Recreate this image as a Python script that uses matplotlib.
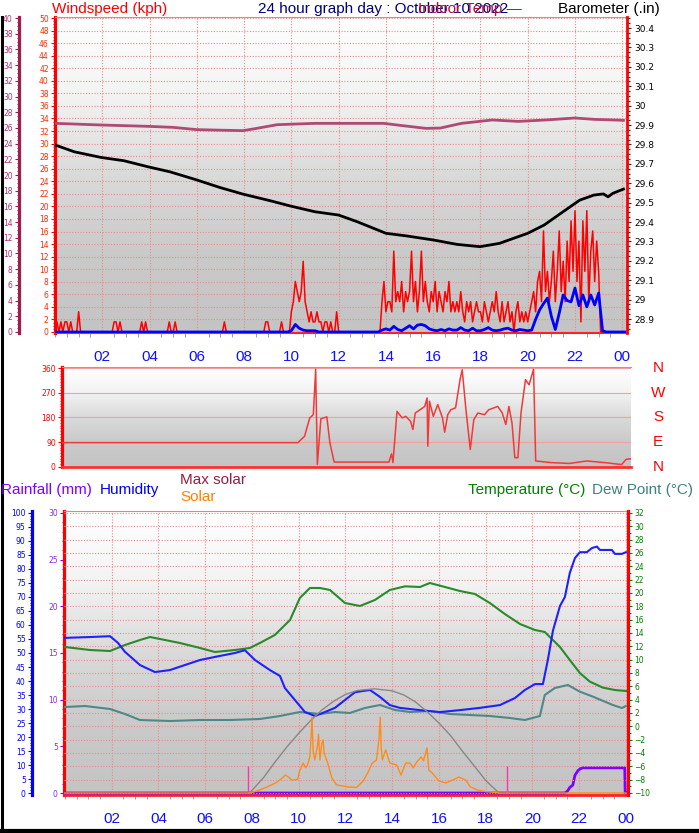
import numpy as np
import matplotlib
matplotlib.use('Agg')
import matplotlib.pyplot as plt
from matplotlib.colors import LinearSegmentedColormap
from matplotlib.ticker import MultipleLocator, FormatStrFormatter

W, H = 699, 833

# ---------------- data ----------------
hour_ticks = [2, 4, 6, 8, 10, 12, 14, 16, 18, 20, 22, 24]
hour_labels = ['02', '04', '06', '08', '10', '12', '14', '16', '18', '20', '22', '00']

# wind gust, mph, one value every 5 minutes (one row per hour)
gust_mph = [
    [0, 1, 0, 1, 0, 1, 1, 0, 1, 0, 0, 0],
    [2, 0, 0, 0, 0, 0, 0, 0, 0, 0, 0, 0],
    [0, 0, 0, 0, 0, 0, 1, 1, 0, 1, 0, 0],
    [0, 0, 0, 0, 0, 0, 0, 0, 1, 0, 1, 0],
    [0, 0, 0, 0, 0, 0, 0, 0, 0, 0, 1, 0],
    [0, 1, 0, 0, 0, 0, 0, 0, 0, 0, 0, 0],
    [0, 0, 0, 0, 0, 0, 0, 0, 0, 0, 0, 0],
    [0, 0, 1, 0, 0, 0, 0, 0, 0, 0, 0, 0],
    [0, 0, 0, 0, 0, 0, 0, 0, 0, 0, 0, 1],
    [1, 0, 0, 0, 0, 0, 0, 1, 0, 0, 0, 0],
    [2, 3, 5, 4, 3, 4, 7, 3, 2, 1, 2, 1],
    [1, 2, 1, 1, 0, 1, 1, 0, 1, 0, 0, 2],
    [0, 0, 0, 0, 0, 0, 0, 0, 0, 0, 0, 0],
    [0, 0, 0, 0, 0, 0, 0, 0, 0, 0, 3, 5],
    [2, 3, 3, 2, 8, 3, 4, 3, 5, 2, 4, 3],
    [4, 8, 3, 5, 2, 4, 8, 3, 5, 3, 2, 4],
    [3, 5, 2, 4, 3, 2, 4, 3, 5, 2, 3, 2],
    [3, 2, 4, 2, 1, 3, 2, 3, 1, 2, 3, 2],
    [2, 1, 3, 2, 1, 2, 3, 2, 4, 2, 1, 3],
    [1, 2, 3, 1, 2, 0, 2, 3, 1, 2, 1, 2],
    [1, 2, 3, 4, 2, 5, 6, 3, 10, 4, 6, 3],
    [5, 8, 3, 6, 10, 4, 7, 3, 9, 5, 11, 6],
    [12, 5, 9, 1, 11, 6, 12, 3, 8, 10, 5, 9],
    [6, 0, 0, 0, 0, 0, 0, 0, 0, 0, 0, 0],
]

# average wind, kph, one value every 10 minutes
wind_kph = [
    [0, 0, 0, 0, 0, 0], [0, 0, 0, 0, 0, 0], [0, 0, 0, 0, 0, 0],
    [0, 0, 0, 0, 0, 0], [0, 0, 0, 0, 0, 0], [0, 0, 0, 0, 0, 0],
    [0, 0, 0, 0, 0, 0], [0, 0, 0, 0, 0, 0], [0, 0, 0, 0, 0, 0],
    [0, 0, 0, 0, 0, 0],
    [0.2, 1.2, 0.6, 0.3, 0.2, 0.2],
    [0.2, 0, 0, 0, 0, 0],
    [0, 0, 0, 0, 0, 0],
    [0, 0, 0, 0, 0, 0.3],
    [0.5, 0.3, 0.9, 0.4, 0.2, 0.6],
    [1.0, 0.5, 1.1, 1.2, 1.0, 0.5],
    [0.3, 0.2, 0.4, 0.2, 0.5, 0.3],
    [0.3, 0.7, 0.3, 0.2, 0.6, 0.2],
    [0.2, 0.4, 0.7, 0.3, 0.2, 0.3],
    [0.5, 0.6, 0.3, 0.2, 0.4, 0.3],
    [0.2, 0.3, 2.0, 3.5, 4.5, 5.4],
    [2.5, 0.4, 3.0, 5.9, 5.0, 4.8],
    [7.0, 4.2, 5.9, 4.0, 5.9, 4.3],
    [6.2, 0.2, 0, 0, 0, 0],
]

baro_t = [0.01, 0.82, 1.95, 2.92, 3.93, 4.86, 5.92, 6.98, 7.95, 9.1, 9.98, 11.0, 12.0,
          12.8, 14.0, 14.9, 16.03, 17.0, 17.98, 18.8, 20.0, 20.7, 21.4, 22.2, 22.8,
          23.2, 23.4, 23.6, 24.05]
baro_in = [29.797, 29.762, 29.733, 29.716, 29.685, 29.659, 29.620, 29.578, 29.544,
           29.510, 29.482, 29.453, 29.436, 29.401, 29.342, 29.328, 29.307, 29.285,
           29.273, 29.290, 29.342, 29.385, 29.445, 29.513, 29.539, 29.545, 29.530,
           29.548, 29.570]

indoor_t = [0.01, 1.95, 3.93, 5.0, 6.0, 7.95, 8.4, 9.4, 11.0, 12.8, 13.9, 14.7, 15.7,
            16.3, 17.2, 18.5, 19.6, 20.7, 22.0, 22.8, 24.05]
indoor_c = [26.58, 26.37, 26.2, 26.07, 25.78, 25.65, 25.87, 26.41, 26.58, 26.58, 26.58,
            26.29, 25.94, 25.98, 26.58, 27.01, 26.83, 27.0, 27.26, 27.09, 26.97]

dir_t = [0.0, 9.95, 10.23, 10.45, 10.6, 10.7, 10.77, 10.92, 11.17, 11.3, 11.48, 11.6,
         13.79, 13.9, 13.96, 14.13, 14.35, 14.5, 14.7, 14.8, 14.9, 15.1, 15.3, 15.4,
         15.43, 15.5, 15.66, 15.85, 16.05, 16.14, 16.27, 16.4, 16.6, 16.79, 16.88,
         17.03, 17.22, 17.37, 17.54, 17.82, 18.0, 18.38, 18.57, 18.72, 18.85, 18.98,
         19.1, 19.23, 19.36, 19.55, 19.7, 19.89, 19.98, 20.64, 21.4, 22.14, 22.9,
         23.6, 23.8, 24.0]
dir_deg = [88, 88, 111, 178, 190, 356, 8, 175, 182, 87, 17, 17,
           17, 47, 15, 202, 178, 184, 166, 136, 196, 208, 220, 251,
           75, 239, 184, 227, 178, 126, 190, 208, 215, 318, 354,
           215, 63, 172, 196, 190, 208, 220, 196, 154, 220, 160,
           33, 33, 196, 318, 299, 356, 21, 15, 12, 21, 15,
           8, 27, 29]
compass = ['N', 'E', 'S', 'W', 'N']
compass_deg = [0, 90, 180, 270, 360]

hum_t = [0.0, 1.07, 1.93, 2.27, 2.57, 3.21, 3.85, 4.49, 5.13, 5.78, 6.42, 7.27, 7.70,
         8.13, 8.77, 9.20, 9.41, 9.84, 10.27, 10.70, 11.12, 11.55, 11.98, 12.41, 13.05,
         13.48, 13.90, 14.33, 15.19, 16.04, 16.90, 17.75, 18.61, 19.25, 19.68, 20.11,
         20.45, 20.66, 20.88, 21.18, 21.39, 21.60, 21.82, 22.03, 22.33, 22.55, 22.76,
         22.89, 23.40, 23.53, 23.83, 24.0]
hum_pct = [55.4, 55.7, 56.0, 53.6, 50.4, 45.7, 43.2, 43.9, 45.7, 47.5, 48.6, 50.0, 51.0,
           47.5, 43.9, 41.8, 37.5, 33.2, 28.9, 27.5, 28.9, 30.4, 33.2, 36.0, 36.8,
           34.3, 31.4, 30.4, 29.6, 28.9, 29.6, 30.4, 31.4, 33.9, 36.8, 38.9,
           38.9, 47.5, 58.0, 66.8, 70.0, 78.6, 83.9, 86.0, 86.0, 87.5, 88.0,
           86.8, 86.8, 85.4, 85.4, 86.0]

temp_t = [0.0, 1.07, 1.93, 2.57, 3.21, 3.64, 4.28, 4.92, 5.78, 6.42, 7.27, 7.91, 8.34,
          8.98, 9.63, 10.05, 10.48, 10.91, 11.34, 11.98, 12.62, 13.26, 13.90, 14.55,
          15.19, 15.61, 16.26, 16.90, 17.54, 18.18, 18.82, 19.47, 20.11, 20.53, 21.18,
          21.60, 22.03, 22.46, 23.02, 23.53, 24.0]
temp_c = [11.9, 11.45, 11.3, 12.2, 12.95, 13.4, 12.95, 12.5, 11.75, 11.15, 11.45, 11.75,
          12.5, 13.7, 15.95, 19.25, 20.75, 20.75, 20.45, 18.5, 18.05, 18.95, 20.45, 21.0,
          20.9, 21.5, 20.9, 20.3, 19.85, 18.5, 16.85, 15.35, 14.45, 14.15, 11.9,
          9.95, 8.0, 6.7, 5.8, 5.45, 5.3]

dew_t = [0.0, 0.86, 1.93, 2.57, 3.21, 4.49, 5.78, 7.06, 8.34, 9.20, 10.05, 10.91, 11.55,
         12.19, 12.83, 13.48, 14.12, 14.76, 15.61, 16.47, 17.33, 18.18, 19.04, 19.68,
         20.32, 20.53, 20.96, 21.52, 22.03, 22.59, 23.44, 23.83, 24.0]
dew_c = [2.9, 3.05, 2.6, 1.85, 0.95, 0.8, 0.95, 0.95, 1.1, 1.55, 2.15, 1.85, 2.15,
         2.0, 2.75, 3.2, 2.45, 2.15, 2.3, 1.85, 1.7, 1.55, 1.25, 0.95,
         1.55, 4.7, 5.75, 6.2, 5.2, 4.45, 3.2, 2.75, 3.05]

solar_t = [0.0, 7.94, 8.3, 8.66, 9.04, 9.25, 9.43, 9.6, 9.71, 9.96, 10.03, 10.19, 10.3,
           10.38, 10.48, 10.53, 10.57, 10.62, 10.69, 10.8, 10.85, 10.91, 10.99, 11.05,
           11.09, 11.24, 11.42, 11.62, 12.1, 12.48, 12.76, 12.95, 13.15, 13.33, 13.43,
           13.49, 13.53, 13.58, 13.72, 13.9, 14.19, 14.38, 14.58, 14.76, 14.9, 15.05,
           15.24, 15.34, 15.49, 15.57, 15.72, 16.0, 16.29, 16.58, 16.86, 17.15, 17.34,
           17.63, 18.0, 18.4, 18.57, 24.0]
solar_w = [0, 0, 10, 22, 37, 50, 64, 55, 46, 49, 76, 107, 90,
           100, 130, 200, 271, 150, 118, 165, 210, 118, 177, 190,
           143, 107, 54, 29, 22, 20, 43, 71, 107, 118, 189,
           271, 160, 118, 154, 107, 100, 64, 107, 107, 90, 110,
           129, 115, 161, 82, 71, 43, 36, 46, 57, 46, 22,
           11, 5, 2, 0, 0]

maxsolar_t = [7.9, 8.5, 9.0, 9.5, 10.0, 10.5, 11.0, 11.5, 12.0, 12.5, 13.24, 14.0, 14.5,
              15.0, 15.5, 16.0, 16.5, 17.0, 17.5, 18.0, 18.57]
maxsolar_w = [0, 55, 112, 165, 213, 258, 297, 328, 352, 366, 372, 365, 350,
              325, 290, 250, 205, 150, 98, 45, 0]
sun_times = [7.83, 18.9]

rain_t = [0.0, 21.39, 21.5, 21.6, 21.73, 21.82, 21.95, 22.05, 22.16, 23.95, 23.97, 24.0]
rain_mm = [0, 0, 0.2, 0.6, 0.85, 1.9, 2.4, 2.6, 2.7, 2.7, 0, 0]

# ---------------- figure ----------------
plt.rcParams['font.family'] = 'DejaVu Sans'
fig = plt.figure(figsize=(W / 100, H / 100), dpi=100)
fig.patch.set_facecolor('white')

bg = LinearSegmentedColormap.from_list('bg', ['#ffffff', '#f3f3f3', '#dadada', '#cacaca', '#c4c4c4'])
grad = np.linspace(0, 1, 256).reshape(-1, 1)
GRID = '#f08a8a'
TITLE = 'Liberation Sans'


def px_axes(l, t, r, b):
    return fig.add_axes([l / W, 1 - b / H, (r - l) / W, (b - t) / H])


def backdrop(ax):
    ax.imshow(grad, extent=[0, 1, 0, 1], transform=ax.transAxes, cmap=bg,
              aspect='auto', zorder=-10, interpolation='bilinear')


def small_ticks(ax, color, side='left', lab=None):
    ax.tick_params(axis='y', which='major', labelsize=5.5, labelcolor=lab or color,
                   color=color, length=3, width=0.8, pad=1.5)
    ax.tick_params(axis='y', which='minor', color=color, length=1.8, width=0.7)


def hide_spines(ax, keep=()):
    for k, s in ax.spines.items():
        s.set_visible(k in keep)


# ---------- top panel: wind + barometer ----------
ax = px_axes(55, 17, 627, 333)
backdrop(ax)
gust = np.array(sum(gust_mph, [])) * 1.609
gust_t = np.arange(len(gust)) / 12
wind = np.array(sum(wind_kph, []))
wind_t = np.arange(len(wind)) / 6
ax.plot(np.append(gust_t, 24.1), np.append(gust, 0), color='#ff0000', lw=1.1, zorder=3)
ax.plot(np.append(wind_t, 24.1), np.append(wind, 0), color='#0000ff', lw=2, zorder=4)
ax.set_xlim(0, 24.2)
ax.set_ylim(-0.16, 50.16)
ax.yaxis.set_major_locator(MultipleLocator(2))
ax.yaxis.set_minor_locator(MultipleLocator(0.5))
small_ticks(ax, '#ff0000', lab='#ff2a00')
ax.set_xticks(hour_ticks, hour_labels)
ax.xaxis.set_minor_locator(MultipleLocator(0.5))
ax.tick_params(axis='x', which='major', labelsize=11, labelcolor='#1010ff', length=0, pad=12)
ax.tick_params(axis='x', which='minor', length=3, color='#909090')
for lab in ax.get_xticklabels():
    lab.set_fontfamily(TITLE)
ax.set_axisbelow(True)
ax.grid(True, which='major', color=GRID, linestyle=(0, (1, 1.5)), lw=0.8)
ax.spines['left'].set_color('#ff0000')
ax.spines['left'].set_linewidth(2.3)
ax.spines['bottom'].set_color('#ff2020')
ax.spines['bottom'].set_linewidth(1.5)
ax.spines['top'].set_color('#f08080')
ax.spines['top'].set_linewidth(0.8)
ax.spines['right'].set_visible(False)

ax_b = ax.twinx()
ax_b.plot(baro_t, baro_in, color='black', lw=2, zorder=5)
ax_b.set_ylim(28.828, 30.457)
ax_b.yaxis.set_major_locator(MultipleLocator(0.1))
ax_b.yaxis.set_minor_locator(MultipleLocator(0.025))
ax_b.yaxis.set_major_formatter(FormatStrFormatter('%g'))
ax_b.tick_params(axis='y', which='major', labelsize=6.5, labelcolor='black', color='#303030',
                 length=3, width=0.8, pad=2)
ax_b.tick_params(axis='y', which='minor', color='#303030', length=2, width=0.8)
hide_spines(ax_b, ('right',))
ax_b.spines['right'].set_color('#ff0000')
ax_b.spines['right'].set_linewidth(2)

ax_i = ax.twinx()
ax_i.plot(indoor_t, indoor_c, color='#b04a72', lw=2, zorder=5)
ax_i.set_ylim(-0.13, 40.13)
ax_i.yaxis.set_ticks_position('left')
ax_i.spines['left'].set_position(('outward', 36 * 0.72))
hide_spines(ax_i, ('left',))
ax_i.spines['left'].set_color('#a01e4a')
ax_i.spines['left'].set_linewidth(2.3)
ax_i.yaxis.set_major_locator(MultipleLocator(2))
ax_i.yaxis.set_minor_locator(MultipleLocator(0.5))
small_ticks(ax_i, '#a01e4a', lab='#b03070')

fig.text(52 / W, 1 - 9 / H, 'Windspeed (kph)', color='#ff0000', fontsize=11,
         family=TITLE, va='center', ha='left')
fig.text(258 / W, 1 - 9 / H, '24 hour graph day : October 10 2022', color='#000080',
         fontsize=11, family=TITLE, va='center', ha='left')
fig.text(418 / W, 1 - 9 / H, 'Indoor Temp \u2014', color='#b01040', fontsize=11,
         family=TITLE, va='center', ha='left')
fig.text(558 / W, 1 - 9 / H, 'Barometer (.in)', color='black', fontsize=11,
         family=TITLE, va='center', ha='left')

# ---------- middle panel: wind direction ----------
ax_d = px_axes(62, 367, 631, 467)
backdrop(ax_d)
ax_d.plot(dir_t, dir_deg, color='#f03a3a', lw=1.1, zorder=3)
ax_d.set_xlim(0, 24)
ax_d.set_ylim(-1, 364)
ax_d.set_yticks(compass_deg)
ax_d.yaxis.set_minor_locator(MultipleLocator(10))
small_ticks(ax_d, '#ff0000')
ax_d.set_xticks([])
ax_d.set_axisbelow(True)
ax_d.grid(True, axis='y', color='#f4a0a0', lw=0.8)
ax_d.spines['left'].set_color('#ff0000')
ax_d.spines['left'].set_linewidth(2.3)
ax_d.spines['bottom'].set_color('#ff3030')
ax_d.spines['bottom'].set_linewidth(2)
ax_d.spines['top'].set_color('#f08080')
ax_d.spines['top'].set_linewidth(0.8)
ax_d.spines['right'].set_visible(False)
tr = ax_d.get_yaxis_transform()
for name, deg in zip(compass, compass_deg):
    ax_d.text((658 - 62) / (631 - 62), deg, name, transform=tr, color='#ff0000',
              fontsize=11, family=TITLE, ha='center', va='center')

# ---------- bottom panel: temperature, humidity, solar, rain ----------
ax_r = px_axes(64, 511, 628, 795)
backdrop(ax_r)
ax_r.set_xlim(-0.04, 24.09)
ax_r.set_ylim(-0.214, 30.214)
ax_r.plot(rain_t, rain_mm, color='#8000ff', lw=2, zorder=3)
ax_r.yaxis.set_major_locator(MultipleLocator(5))
ax_r.yaxis.set_minor_locator(MultipleLocator(1))
small_ticks(ax_r, '#8000ff', lab='#8a2be2')
ax_r.set_xticks(hour_ticks, hour_labels)
ax_r.xaxis.set_minor_locator(MultipleLocator(0.5))
ax_r.tick_params(axis='x', which='major', labelsize=11, labelcolor='#1010ff', length=0, pad=12)
ax_r.tick_params(axis='x', which='minor', length=3, color='#909090')
for lab in ax_r.get_xticklabels():
    lab.set_fontfamily(TITLE)
ax_r.set_axisbelow(True)
ax_r.grid(True, axis='x', color=GRID, linestyle=(0, (1, 1.5)), lw=0.8)
ax_r.spines['left'].set_color('#ff0000')
ax_r.spines['left'].set_linewidth(2.3)
ax_r.spines['bottom'].set_color('#ff2020')
ax_r.spines['bottom'].set_linewidth(2)
ax_r.spines['top'].set_color('#f08080')
ax_r.spines['top'].set_linewidth(0.8)
ax_r.spines['right'].set_visible(False)

ax_t = ax_r.twinx()
ax_t.set_ylim(-10.3, 32.3)
ax_t.yaxis.set_major_locator(MultipleLocator(2))
ax_t.yaxis.set_minor_locator(MultipleLocator(1))
small_ticks(ax_t, '#008000')
ax_t.set_axisbelow(True)
ax_t.grid(True, axis='y', color=GRID, linestyle=(0, (1, 1.5)), lw=0.8)
hide_spines(ax_t, ('right',))
ax_t.spines['right'].set_color('#ff0000')
ax_t.spines['right'].set_linewidth(2.3)

ax_h = ax_r.twinx()
ax_h.set_ylim(-0.714, 100.714)
ax_h.yaxis.set_ticks_position('left')
ax_h.spines['left'].set_position(('outward', 32 * 0.72))
hide_spines(ax_h, ('left',))
ax_h.spines['left'].set_color('#0000ff')
ax_h.spines['left'].set_linewidth(2.3)
ax_h.yaxis.set_major_locator(MultipleLocator(5))
ax_h.yaxis.set_minor_locator(MultipleLocator(1))
small_ticks(ax_h, '#0000ff')

ax_s = ax_r.twinx()
ax_s.set_ylim(-7.14, 1007.14)
ax_s.set_yticks([])
hide_spines(ax_s)
ax_s.plot(maxsolar_t, maxsolar_w, color='#888888', lw=1, zorder=2)
ax_s.vlines(sun_times, 0, 95, color='#ff33aa', lw=1, zorder=2)
ax_s.plot(solar_t, solar_w, color='#ff8c1a', lw=1, zorder=4)

ax_t.plot(dew_t, dew_c, color='#508888', lw=1.5, zorder=3)
ax_t.plot(temp_t, temp_c, color='#2a8a2a', lw=1.5, zorder=3)
ax_h.plot(hum_t, hum_pct, color='#2020ff', lw=1.5, zorder=3)

fig.text(1 / W, 1 - 490 / H, 'Rainfall (mm)', color='#8000ff', fontsize=11, family=TITLE, va='center')
fig.text(100 / W, 1 - 490 / H, 'Humidity', color='#0000ff', fontsize=11, family=TITLE, va='center')
fig.text(180 / W, 1 - 480 / H, 'Max solar', color='#9a1a40', fontsize=11, family=TITLE, va='center')
fig.text(180 / W, 1 - 497 / H, 'Solar', color='#ff8000', fontsize=11, family=TITLE, va='center')
fig.text(468 / W, 1 - 490 / H, 'Temperature (\u00b0C)', color='#008000', fontsize=11, family=TITLE, va='center')
fig.text(592 / W, 1 - 490 / H, 'Dew Point (\u00b0C)', color='#408080', fontsize=11, family=TITLE, va='center')

# frame edges
fig.add_artist(plt.Line2D([1.5 / W, 1.5 / W], [0, 1 - 17 / H], color='black', lw=2.2))
fig.add_artist(plt.Line2D([0, 1], [2 / H, 2 / H], color='black', lw=3))

fig.savefig('out.png', dpi=100)
